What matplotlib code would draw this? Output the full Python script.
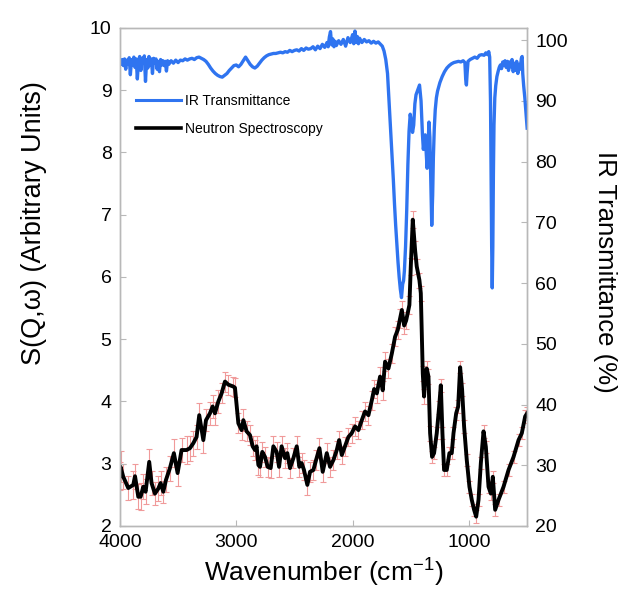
import matplotlib
matplotlib.use("Agg")
import matplotlib.pyplot as plt
from matplotlib.lines import Line2D

plt.rcParams['font.family'] = ['Liberation Sans', 'DejaVu Sans']
plt.rcParams['mathtext.fontset'] = 'custom'
plt.rcParams['mathtext.rm'] = 'Liberation Sans'
plt.rcParams['mathtext.it'] = 'Liberation Sans:italic'

# Neutron spectroscopy S(Q,w)
ns_wn = [4000, 3994, 3971, 3928, 3885, 3870, 3842, 3822, 3799, 3779,
         3748, 3728, 3699, 3670, 3650, 3627, 3604, 3570, 3536, 3504,
         3470, 3427, 3398, 3369, 3341, 3318, 3283, 3260, 3226, 3203,
         3183, 3154, 3126, 3097, 3068, 3025, 3011, 2982, 2954, 2939,
         2911, 2882, 2859, 2839, 2825, 2810, 2796, 2776, 2753, 2730,
         2704, 2681, 2653, 2632, 2610, 2581, 2561, 2538, 2509, 2480,
         2458, 2438, 2418, 2389, 2366, 2337, 2314, 2285, 2257, 2222,
         2194, 2165, 2136, 2116, 2093, 2065, 2036, 2008, 1979, 1950,
         1921, 1893, 1864, 1835, 1815, 1792, 1764, 1741, 1721, 1692,
         1663, 1635, 1612, 1592, 1577, 1557, 1540, 1512, 1500, 1483,
         1463, 1449, 1426, 1414, 1397, 1386, 1374, 1363, 1348, 1334,
         1317, 1300, 1277, 1257, 1242, 1228, 1214, 1191, 1168, 1148,
         1133, 1110, 1093, 1076, 1059, 1042, 1019, 996, 976, 956,
         938, 918, 898, 875, 855, 832, 812, 795, 775, 746,
         703, 660, 617, 574, 546, 517, 500]
ns_val = [2.80, 2.95, 2.79, 2.61, 2.66, 2.80, 2.47, 2.47, 2.63, 2.55,
          3.03, 2.69, 2.52, 2.60, 2.69, 2.55, 2.74, 2.93, 3.17, 2.85,
          3.22, 3.22, 3.25, 3.33, 3.43, 3.78, 3.38, 3.70, 3.81, 3.92,
          3.81, 4.00, 4.13, 4.32, 4.27, 4.24, 4.22, 3.65, 3.54, 3.70,
          3.52, 3.46, 3.28, 3.22, 3.28, 2.98, 2.95, 3.19, 3.11, 2.95,
          2.93, 3.28, 3.19, 2.95, 3.28, 3.09, 3.17, 2.93, 3.09, 3.28,
          2.95, 3.01, 2.90, 2.66, 2.87, 2.90, 3.06, 3.25, 2.87, 3.17,
          2.95, 3.06, 3.22, 3.38, 3.14, 3.28, 3.43, 3.49, 3.60, 3.54,
          3.70, 3.84, 3.78, 4.02, 4.20, 4.13, 4.40, 4.18, 4.64, 4.53,
          4.77, 5.04, 5.15, 5.33, 5.47, 5.22, 5.30, 5.55, 6.17, 6.92,
          6.43, 6.17, 5.95, 5.74, 4.45, 4.08, 4.40, 4.53, 4.40, 3.49,
          3.11, 3.17, 3.49, 3.90, 4.26, 3.49, 2.90, 2.90, 3.17, 3.17,
          3.49, 3.81, 3.92, 4.55, 4.19, 3.60, 3.06, 2.63, 2.42, 2.26,
          2.15, 2.42, 3.01, 3.52, 3.27, 2.63, 2.52, 2.79, 2.26, 2.42,
          2.63, 2.90, 3.11, 3.38, 3.49, 3.76, 3.81]
ns_err = [.22, .25, .20, .20, .22, .20, .20, .22, .20, .20,
          .20, .20, .18, .20, .20, .18, .20, .20, .22, .20,
          .20, .22, .20, .20, .20, .20, .20, .18, .18, .18,
          .18, .18, .16, .16, .16, .15, .15, .16, .16, .18,
          .16, .16, .16, .16, .16, .16, .16, .16, .16, .16,
          .16, .16, .16, .16, .16, .16, .16, .16, .16, .16,
          .16, .16, .16, .16, .16, .16, .16, .16, .16, .16,
          .16, .16, .15, .15, .15, .15, .15, .15, .15, .15,
          .15, .15, .15, .15, .15, .15, .15, .15, .15, .15,
          .15, .15, .15, .15, .15, .14, .14, .14, .14, .14,
          .14, .12, .12, .12, .12, .12, .12, .12, .12, .12,
          .10, .10, .10, .10, .10, .10, .10, .10, .10, .10,
          .10, .10, .10, .10, .10, .10, .10, .10, .10, .10,
          .10, .10, .10, .10, .10, .10, .10, .10, .10, .10,
          .10, .10, .10, .10, .10, .10, .10]

# IR transmittance (%)
ir_wn = [4000, 3990, 3980, 3970, 3960, 3950, 3940, 3930, 3920, 3910,
         3900, 3890, 3880, 3870, 3860, 3850, 3840, 3830, 3820, 3810,
         3800, 3790, 3780, 3770, 3760, 3750, 3740, 3730, 3720, 3710,
         3700, 3690, 3680, 3670, 3660, 3650, 3640, 3630, 3620, 3610,
         3600, 3590, 3580, 3560, 3540, 3520, 3500, 3480, 3460, 3440,
         3420, 3400, 3380, 3360, 3340, 3320, 3300, 3280, 3260, 3240,
         3220, 3200, 3180, 3160, 3140, 3120, 3100, 3080, 3060, 3040,
         3020, 3000, 2980, 2960, 2940, 2920, 2900, 2880, 2860, 2840,
         2820, 2800, 2780, 2760, 2740, 2720, 2700, 2680, 2660, 2640,
         2620, 2600, 2580, 2560, 2540, 2520, 2500, 2480, 2460, 2440,
         2420, 2400, 2380, 2360, 2340, 2320, 2300, 2280, 2260, 2240,
         2220, 2210, 2200, 2190, 2180, 2170, 2160, 2150, 2140, 2120,
         2100, 2080, 2060, 2040, 2020, 2000, 1990, 1980, 1970, 1960,
         1950, 1940, 1920, 1900, 1880, 1860, 1840, 1820, 1800, 1780,
         1760, 1745, 1730, 1715, 1700, 1690, 1680, 1670, 1660, 1650,
         1640, 1630, 1620, 1610, 1600, 1590, 1580, 1570, 1562, 1555,
         1545, 1535, 1525, 1515, 1505, 1495, 1485, 1475, 1465, 1455,
         1440, 1425, 1412, 1400, 1392, 1384, 1376, 1368, 1360, 1352,
         1344, 1336, 1328, 1320, 1312, 1306, 1298, 1290, 1280, 1270,
         1250, 1230, 1210, 1190, 1170, 1150, 1130, 1110, 1090, 1070,
         1050, 1035, 1028, 1022, 1016, 1008, 990, 970, 950, 930,
         910, 890, 870, 855, 840, 830, 822, 815, 810, 805,
         800, 795, 790, 785, 778, 770, 760, 750, 740, 730,
         720, 710, 700, 690, 680, 670, 660, 650, 640, 630,
         620, 610, 600, 590, 580, 570, 560, 550, 543, 538,
         530, 520, 510, 500]
ir_val = [96.5, 96.0, 96.8, 95.8, 96.9, 95.2, 96.7, 96.0, 97.1, 94.3,
          96.8, 95.9, 97.2, 95.5, 96.9, 93.6, 96.5, 97.3, 95.0, 97.0,
          96.2, 97.4, 93.2, 96.8, 95.4, 97.3, 95.9, 96.9, 94.5, 97.0,
          96.2, 96.9, 95.2, 96.5, 94.8, 96.8, 95.9, 96.6, 95.8, 96.5,
          94.9, 96.6, 96.0, 96.6, 96.2, 96.7, 96.3, 96.7, 96.6, 96.9,
          96.7, 96.9, 97.0, 96.8, 97.1, 97.2, 97.0, 96.8, 96.5, 96.0,
          95.4, 94.9, 94.5, 94.2, 94.0, 93.9, 94.2, 94.5, 95.0, 95.4,
          95.8, 95.9, 95.6, 96.0, 96.6, 97.2, 96.6, 96.0, 95.6, 95.4,
          95.7, 96.2, 96.7, 97.1, 97.4, 97.6, 97.7, 97.8, 97.8, 97.9,
          98.0, 97.9, 98.1, 98.0, 98.3, 98.1, 98.3, 98.4, 98.2, 98.6,
          98.3, 98.7, 98.5, 98.6, 98.9, 98.4, 99.0, 98.6, 99.3, 98.8,
          99.6, 98.9, 100.5, 101.4, 99.2, 100.2, 98.9, 99.8, 99.1, 99.9,
          99.3, 100.1, 99.0, 100.4, 99.6, 100.9, 99.4, 101.5, 99.6, 100.6,
          99.4, 100.3, 99.6, 100.1, 99.7, 99.9, 99.5, 99.8, 99.5, 99.7,
          99.3, 99.0, 98.2, 96.8, 94.5, 91.0, 87.5, 84.0, 80.6, 77.0,
          73.0, 69.5, 66.5, 63.5, 61.0, 59.0, 57.6, 59.8, 60.4, 62.0,
          66.0, 72.0, 79.5, 85.0, 87.8, 86.5, 84.8, 86.0, 89.5, 91.0,
          91.8, 92.6, 90.0, 84.5, 82.0, 83.5, 84.4, 81.5, 78.9, 82.0,
          86.5, 84.0, 76.5, 69.5, 74.5, 80.6, 85.5, 88.5, 90.5, 91.6,
          93.0, 94.0, 94.8, 95.4, 95.8, 96.1, 96.3, 96.4, 96.5, 96.4,
          96.6, 96.3, 93.5, 92.6, 94.5, 96.5, 96.8, 97.0, 97.2, 97.0,
          97.5, 97.6, 97.5, 97.9, 97.6, 98.1, 97.2, 90.0, 78.0, 66.0,
          59.2, 66.0, 78.0, 86.0, 90.5, 92.5, 94.0, 94.8, 95.5, 95.9,
          95.3, 96.4, 95.8, 96.6, 95.5, 96.5, 95.0, 96.4, 95.6, 96.8,
          94.8, 96.2, 95.0, 96.5, 94.5, 96.0, 95.2, 97.0, 97.3, 94.5,
          92.5, 90.5, 88.0, 85.5]

left_ticks = [2, 3, 4, 5, 6, 7, 8, 9, 10]
right_ticks = [20, 30, 40, 50, 60, 70, 80, 90, 100]
x_ticks = [4000, 3000, 2000, 1000]

ir_color = '#2f74f0'
err_color = '#f09a9a'
spine_color = '#b8b8b8'

fig = plt.figure(figsize=(6.18, 5.92), dpi=100)
ax = fig.add_axes([0.194, 0.1115, 0.659, 0.8413])
ax2 = ax.twinx()

ax.errorbar(ns_wn, ns_val, yerr=ns_err, fmt='none', ecolor=err_color,
            elinewidth=0.8, capsize=2.5, capthick=0.8, zorder=1)
ax.plot(ns_wn, ns_val, color='black', lw=2.8, zorder=2)
ax2.plot(ir_wn, ir_val, color=ir_color, lw=2.4)

ax.set_xlim(4000, 500)
ax.set_ylim(2, 10)
ax2.set_ylim(20, 102)
ax.set_xticks(x_ticks)
ax.set_yticks(left_ticks)
ax2.set_yticks(right_ticks)

for a in (ax, ax2):
    for s in a.spines.values():
        s.set_color(spine_color)
        s.set_linewidth(1.0)
    a.tick_params(direction='in', length=4, color=spine_color, labelsize=14,
                  labelcolor='black', pad=6)

ax.set_xlabel('Wavenumber (cm$^{-1}$)', fontsize=19, labelpad=4)
ax.set_ylabel('S(Q,ω) (Arbitrary Units)', fontsize=19.5, va='center')
ax.yaxis.set_label_coords(-0.21, 0.608)
ax2.set_ylabel('IR Transmittance (%)', fontsize=18.5, rotation=270,
               va='center')
ax2.yaxis.set_label_coords(1.19, 0.51)

handles = [Line2D([], [], color=ir_color, lw=2.2),
           Line2D([], [], color='black', lw=2.6)]
ax2.legend(handles, ['IR Transmittance', 'Neutron Spectroscopy'],
           loc='upper left', bbox_to_anchor=(0.01, 0.893), frameon=False,
           fontsize=10, handlelength=3.2, handletextpad=0.3, labelspacing=1.0)

fig.savefig('out.png', dpi=100)
